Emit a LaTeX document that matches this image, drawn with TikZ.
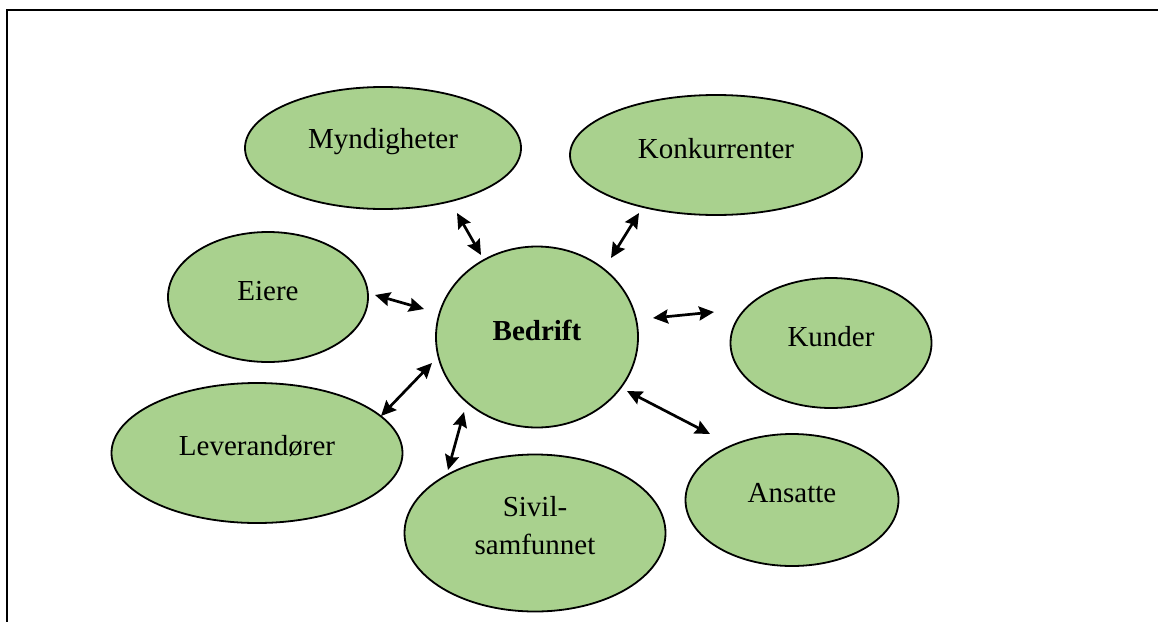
\documentclass[tikz,border=0pt]{standalone}
\usepackage{fontspec}
\setmainfont{Liberation Serif}
\usetikzlibrary{shapes.geometric,arrows.meta}
\definecolor{leaf}{HTML}{A9D18E}
\tikzset{
  party/.style={ellipse, draw=black, line width=1.8pt, fill=leaf, inner sep=0pt},
  caption/.style={font=\fontsize{29}{38}\selectfont, align=center, inner sep=0pt},
  link/.style={line width=2.7pt, {Stealth[length=15pt,width=14pt,inset=2pt]}-{Stealth[length=15pt,width=14pt,inset=2pt]}}
}
\begin{document}
\begin{tikzpicture}[x=1pt,y=-1pt]
\useasboundingbox (0,0) rectangle (1158,621);
% page frame
\draw[line width=2pt] (7,700) -- (7,10) -- (1200,10);

% stakeholder ellipses
\node[party, minimum width=276pt, minimum height=122pt] (mynd) at (383,148) {};
\node[party, minimum width=292pt, minimum height=120pt] (konk) at (716,155) {};
\node[party, minimum width=200pt, minimum height=130pt] (eier) at (268,297) {};
\node[party, minimum width=202pt, minimum height=181pt] (bedr) at (537,337) {};
\node[party, minimum width=201pt, minimum height=130pt] (kund) at (831,343) {};
\node[party, minimum width=291pt, minimum height=140pt] (leve) at (257,453) {};
\node[party, minimum width=261pt, minimum height=157pt] (sivi) at (535,533) {};
\node[party, minimum width=213pt, minimum height=132pt] (ansa) at (792,500) {};

% labels
\node[caption] (tmynd) at ([yshift=6pt]mynd.center) {Myndigheter};
\node[caption] (tkonk) at ([yshift=6pt]konk.center) {Konkurrenter};
\node[caption] (teier) at ([yshift=6pt]eier.center) {Eiere};
\node[caption, font=\fontsize{29}{38}\selectfont\bfseries] (tbedr) at ([yshift=7pt]bedr.center) {Bedrift};
\node[caption] (tkund) at ([yshift=6pt]kund.center) {Kunder};
\node[caption] (tleve) at ([yshift=7pt]leve.center) {Leverandører};
\node[caption] (tsivi) at ([yshift=7pt]sivi.center) {Sivil-\\samfunnet};
\node[caption] (tansa) at ([yshift=7pt]ansa.center) {Ansatte};

% arrow end points
\coordinate (m1) at (457,213); \coordinate (m2) at (481,255);
\coordinate (k1) at (639,213); \coordinate (k2) at (611,258);
\coordinate (e1) at (375,295); \coordinate (e2) at (424,309);
\coordinate (l1) at (432,363); \coordinate (l2) at (381,416);
\coordinate (u1) at (653,318); \coordinate (u2) at (714,312);
\coordinate (a1) at (627,391); \coordinate (a2) at (710,434);
\coordinate (s1) at (464,412); \coordinate (s2) at (448,470);

% relations
\draw[link] (m1) -- (m2);
\draw[link] (k1) -- (k2);
\draw[link] (e1) -- (e2);
\draw[link] (l1) -- (l2);
\draw[link] (u1) -- (u2);
\draw[link] (a1) -- (a2);
\draw[link] (s1) -- (s2);
\end{tikzpicture}
\end{document}
